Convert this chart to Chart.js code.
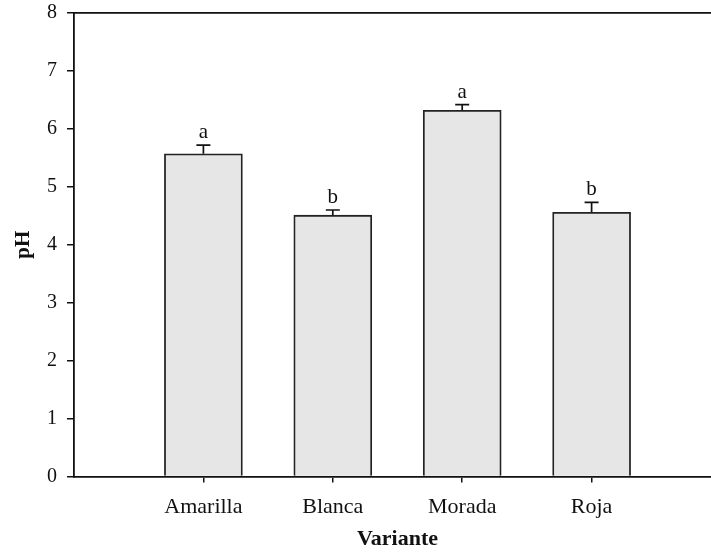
<!DOCTYPE html>
<html>
<head>
<meta charset="utf-8">
<script src="https://cdn.jsdelivr.net/npm/chart.js@4.4.0/dist/chart.umd.min.js"></script>
<style>
  html, body { margin: 0; padding: 0; background: #fff; overflow: hidden; }
  canvas { display: block; }
</style>
</head>
<body>
<canvas id="grafico" width="721" height="552"></canvas>
<script>
// datos
var variantes = ['Amarilla', 'Blanca', 'Morada', 'Roja'];
var posiciones = [1, 2, 3, 4];
var phMedia = [5.57, 4.51, 6.32, 4.56];
var phError = [0.15, 0.09, 0.10, 0.17];
var letras = ['a', 'b', 'a', 'b'];
var ticksY = [0, 1, 2, 3, 4, 5, 6, 7, 8];

var fuente = 'Liberation Serif, Times New Roman, serif';

// barras de error y letras encima de cada barra
var errorPlugin = {
    id: 'errores',
    afterDatasetsDraw: function (chart) {
        var ctx = chart.ctx;
        var x = chart.scales.x;
        var y = chart.scales.y;
        ctx.save();
        ctx.strokeStyle = '#111';
        ctx.lineWidth = 1.7;
        ctx.fillStyle = '#111';
        ctx.font = '21px ' + fuente;
        ctx.textAlign = 'center';
        ctx.textBaseline = 'alphabetic';
        for (var i = 0; i < phMedia.length; i++) {
            var px = x.getPixelForValue(posiciones[i]);
            var yBase = y.getPixelForValue(phMedia[i]);
            var yTop = y.getPixelForValue(phMedia[i] + phError[i]);
            ctx.beginPath();
            ctx.moveTo(px, yBase);
            ctx.lineTo(px, yTop);
            ctx.moveTo(px - 7, yTop);
            ctx.lineTo(px + 7, yTop);
            ctx.stroke();
            ctx.fillText(letras[i], px, yTop - 7);
        }
        ctx.restore();
    }
};

var datos = posiciones.map(function (p, i) {
    return { x: p, y: phMedia[i] };
});

new Chart(document.getElementById('grafico'), {
    type: 'bar',
    data: {
        datasets: [{
            data: datos,
            backgroundColor: '#e6e6e6',
            borderColor: '#222',
            borderWidth: 1.8,
            barThickness: 78
        }]
    },
    options: {
        responsive: false,
        animation: false,
        layout: { padding: { top: 13, left: 0, right: 0, bottom: 0 } },
        plugins: { legend: { display: false }, tooltip: { enabled: false } },
        scales: {
            x: {
                type: 'linear',
                min: 0,
                max: 5,
                offset: false,
                afterBuildTicks: function (scale) {
                    scale.ticks = posiciones.map(function (p) { return { value: p }; });
                },
                afterFit: function (scale) {
                    scale.height = 75.5;
                    scale.paddingLeft = 0;
                    scale.paddingRight = 0;
                },
                ticks: {
                    autoSkip: false,
                    padding: 12,
                    color: '#111',
                    font: { family: fuente, size: 22 },
                    callback: function (v) { return variantes[v - 1] || ''; }
                },
                grid: { display: true, offset: false, drawOnChartArea: false, drawTicks: true, tickLength: 6, color: '#111', lineWidth: 1.5 },
                border: { display: true, color: '#111', width: 1.8 },
                title: {
                    display: true,
                    text: 'Variante',
                    color: '#111',
                    font: { family: fuente, size: 22, weight: 'bold', lineHeight: 1 },
                    padding: { top: 0, bottom: 1.5 }
                }
            },
            xTop: {
                type: 'linear',
                position: 'top',
                min: 0,
                max: 5,
                offset: false,
                afterFit: function (scale) {
                    scale.height = 0;
                    scale.paddingLeft = 0;
                    scale.paddingRight = 0;
                },
                ticks: { display: false },
                grid: { display: false, drawTicks: false, offset: false },
                border: { display: true, color: '#111', width: 1.8 }
            },
            y: {
                min: 0,
                max: 8,
                afterBuildTicks: function (scale) {
                    scale.ticks = ticksY.map(function (t) { return { value: t }; });
                },
                afterFit: function (scale) {
                    scale.width = 74;
                    scale.paddingTop = 0;
                    scale.paddingBottom = 0;
                },
                ticks: {
                    padding: 10,
                    color: '#111',
                    font: { family: fuente, size: 20 }
                },
                grid: { display: true, drawOnChartArea: false, drawTicks: true, tickLength: 7, color: '#111', lineWidth: 1.5 },
                border: { display: true, color: '#111', width: 1.8 },
                title: {
                    display: true,
                    text: 'pH',
                    color: '#111',
                    font: { family: fuente, size: 21, weight: 'bold', lineHeight: 1 },
                    padding: { top: 13.5, bottom: 0 }
                }
            }
        }
    },
    plugins: [errorPlugin]
});
</script>
</body>
</html>
